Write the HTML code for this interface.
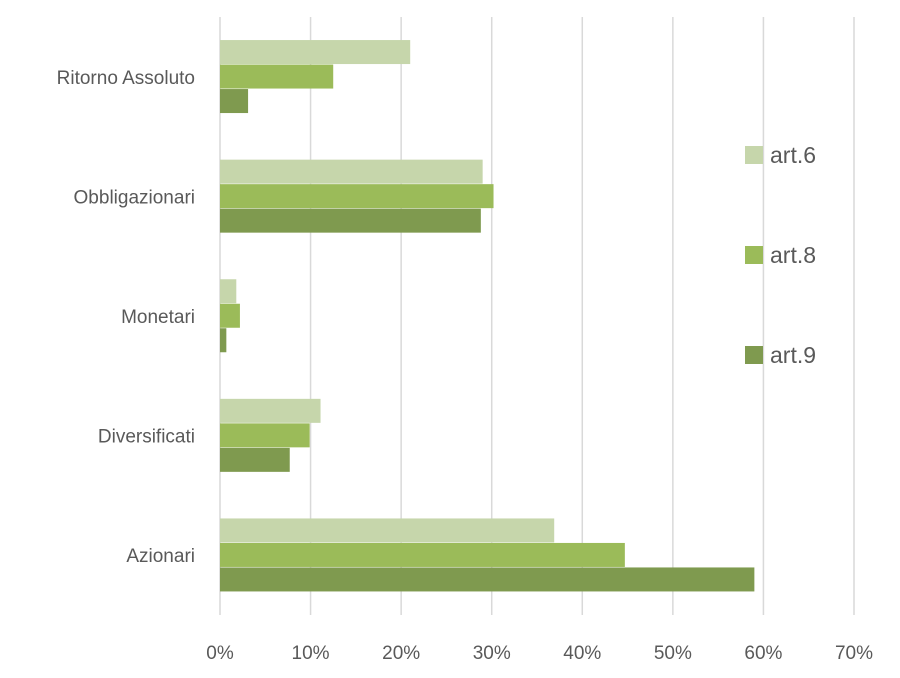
<!DOCTYPE html>
<html><head><meta charset="utf-8">
<style>
html,body{margin:0;padding:0;background:#fff;}
svg{display:block;font-family:"Liberation Sans",sans-serif;}
</style></head>
<body>
<svg id="chart" width="900" height="678" viewBox="0 0 900 678" xmlns="http://www.w3.org/2000/svg">
<g id="grid"></g>
<g id="bars"></g>
<g id="ylabels"></g>
<g id="xlabels"></g>
<g id="legend"></g>
</svg>
<script>
const categories = ["Ritorno Assoluto","Obbligazionari","Monetari","Diversificati","Azionari"];
const seriesNames = ["art.6","art.8","art.9"];
const art6 = [21.0, 29.0, 1.8, 11.1, 36.9];
const art8 = [12.5, 30.2, 2.2, 9.9, 44.7];
const art9 = [3.1, 28.8, 0.7, 7.7, 59.0];
const ticks = [0,10,20,30,40,50,60,70];
const colors = ["#c6d6ab","#9bbb59","#7f9a4f"];
const series = [art6, art8, art9];
const NS = "http://www.w3.org/2000/svg";
const x0 = 220, x1 = 854, maxV = 70, yTop = 17, yBottom = 615;
const bandH = (yBottom - yTop) / categories.length;
const barH = 24.5;
function xs(v){ return x0 + (v / maxV) * (x1 - x0); }
function yc(i){ return yTop + bandH * (i + 0.5); }
function mk(tag, attrs, parent){ const e = document.createElementNS(NS, tag); for (const k in attrs) e.setAttribute(k, attrs[k]); parent.appendChild(e); return e; }
const grid = document.getElementById("grid");
ticks.forEach(t => {
  const l = mk("line", {x1: xs(t), x2: xs(t), y1: yTop, y2: yBottom, stroke: "#d9d9d9", "stroke-width": 1.5}, grid);
  
  
  const tx = mk("text", {x: xs(t), y: 659, "text-anchor": "middle", "font-size": 19, fill: "#595959"}, document.getElementById("xlabels"));
  tx.textContent = t + "%";
  
  
});
const bars = document.getElementById("bars");
categories.forEach((c, i) => {
  series.forEach((s, j) => {
    const y = yc(i) - 1.5 * barH + j * barH;
    const r = mk("rect", {x: xs(0), y: y, width: xs(s[i]) - xs(0), height: barH - 0.5, fill: colors[j]}, bars);
    
    
  });
  const t = mk("text", {x: 195, y: yc(i) + 7, "text-anchor": "end", "font-size": 19, fill: "#595959"}, document.getElementById("ylabels"));
  t.textContent = c;
  
  
});
const lg = document.getElementById("legend");
seriesNames.forEach((n, j) => {
  const y = 155 + j * 100;
  const r = mk("rect", {x: 745, y: y - 9, width: 18, height: 18, fill: colors[j]}, lg);
  
  
  const t = mk("text", {x: 770, y: y + 8, "font-size": 23, fill: "#595959"}, lg);
  t.textContent = n;
  
  
});
</script>
</body></html>
